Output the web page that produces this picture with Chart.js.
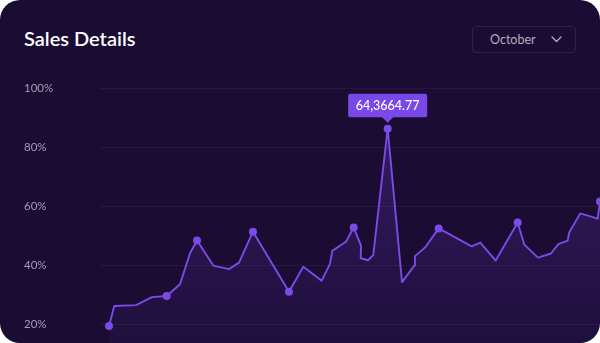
<!DOCTYPE html>
<html>
<head>
<meta charset="utf-8">
<script src="https://cdn.jsdelivr.net/npm/chart.js@4.4.1/dist/chart.umd.min.js"></script>
<style>
  html, body { margin: 0; padding: 0; background: #ffffff; }
  .card {
    position: relative;
    width: 600px;
    height: 343px;
    border-radius: 20px;
    background: #1a0c32;
    overflow: hidden;
    font-family: Lato, "Open Sans", sans-serif;
  }
  .title {
    position: absolute;
    left: 24px;
    top: 28px;
    margin: 0;
    font-size: 20px;
    line-height: 20px;
    font-weight: 600;
    color: #ffffff;
  }
  .select {
    position: absolute;
    left: 472px;
    top: 26px;
    width: 104px;
    height: 27px;
    box-sizing: border-box;
    border: 1px solid rgba(255, 255, 255, 0.09);
    border-radius: 4px;
    color: #b3acc2;
    font-size: 12.5px;
    line-height: 25px;
    padding-left: 17px;
  }
  .select svg { position: absolute; left: 78px; top: 9px; }
  canvas { position: absolute; left: 0; top: 0; }
</style>
</head>
<body>
<div class="card">
  <h1 class="title">Sales Details</h1>
  <div class="select">October
    <svg width="11" height="7" viewBox="0 0 11 7"><path d="M1 1 L5.5 5.5 L10 1" fill="none" stroke="#b3acc2" stroke-width="1.3" stroke-linecap="round" stroke-linejoin="round"/></svg>
  </div>
  <canvas id="sales" width="600" height="390"></canvas>
</div>
<script>
// Sales position along the month (thousands of units) and share reached (%)
const salesX = [1.2, 1.83, 4.43, 6.35, 8.11, 9.7, 10.9, 11.74, 13.69, 15.57, 16.77, 18.44,
  22.75, 24.47, 26.67, 27.66, 27.94, 29.58, 30.5, 31.38, 31.34, 32.21, 32.85, 34.57,
  36.29, 37.76, 37.84, 39.08, 40.68, 44.63, 45.66, 47.51, 50.14, 50.93, 52.57, 54.13,
  55.01, 56.13, 56.32, 57.64, 59.72, 60.0];
const salesPct = [19.3, 26.1, 26.4, 29.1, 29.5, 33.5, 44.0, 48.3, 39.8, 38.6, 40.8, 51.3,
  30.9, 39.4, 34.7, 40.4, 44.8, 47.9, 52.7, 46.6, 42.3, 41.6, 43.4, 86.2,
  34.2, 39.8, 43.0, 46.0, 52.4, 46.3, 47.6, 41.5, 54.4, 46.9, 42.5, 43.9,
  47.1, 48.3, 51.1, 57.5, 55.7, 61.5];
// Points that carry a visible marker
const markedIdx = [0, 4, 7, 11, 12, 18, 23, 28, 32, 41];
// Highlighted peak and its callout text
const peakIdx = 23;
const peakLabel = '64,3664.77';
// Y axis ticks (%)
const yTicks = [0, 20, 40, 60, 80, 100];

const purple = '#7c4ae6';

const points = salesX.map((x, i) => ({ x: x, y: salesPct[i] }));

const calloutPlugin = {
  id: 'peakCallout',
  afterDatasetsDraw(chart) {
    const el = chart.getDatasetMeta(0).data[peakIdx];
    if (!el) return;
    const ctx = chart.ctx;
    const cx = el.x, cy = el.y;
    const w = 79, h = 23.5, tipY = cy - 6, boxBottom = cy - 11.5;
    const left = cx - w / 2, top = boxBottom - h;
    ctx.save();
    ctx.fillStyle = '#7a48e8';
    ctx.beginPath();
    ctx.roundRect(left, top, w, h, 2);
    ctx.fill();
    ctx.beginPath();
    ctx.moveTo(cx - 6, boxBottom - 0.5);
    ctx.lineTo(cx + 6, boxBottom - 0.5);
    ctx.lineTo(cx, tipY);
    ctx.closePath();
    ctx.fill();
    ctx.fillStyle = '#ffffff';
    ctx.font = '500 12.5px Lato, sans-serif';
    ctx.textAlign = 'center';
    ctx.textBaseline = 'middle';
    ctx.fillText(peakLabel, cx, top + h / 2 + 0.5);
    ctx.restore();
  }
};

new Chart(document.getElementById('sales'), {
  type: 'line',
  data: {
    datasets: [{
      data: points,
      borderColor: purple,
      borderWidth: 1.9,
      borderJoinStyle: 'round',
      tension: 0,
      fill: 'start',
      backgroundColor(context) {
        const area = context.chart.chartArea;
        if (!area) return 'rgba(124,74,230,0.15)';
        const g = context.chart.ctx.createLinearGradient(0, area.top, 0, area.bottom);
        g.addColorStop(0, 'rgba(124,74,230,0.30)');
        g.addColorStop(0.55, 'rgba(124,74,230,0.14)');
        g.addColorStop(1, 'rgba(124,74,230,0.02)');
        return g;
      },
      pointRadius: (c) => markedIdx.includes(c.dataIndex) ? 4 : 0,
      pointHoverRadius: (c) => markedIdx.includes(c.dataIndex) ? 4 : 0,
      pointBackgroundColor: purple,
      pointBorderWidth: 0,
      clip: false
    }]
  },
  options: {
    responsive: false,
    animation: false,
    events: [],
    layout: { autoPadding: false, padding: { left: 24, right: 0, top: 88, bottom: 7 } },
    plugins: { legend: { display: false }, tooltip: { enabled: false } },
    scales: {
      x: { type: 'linear', display: false, min: 0, max: 60 },
      y: {
        min: yTicks[0],
        max: yTicks[yTicks.length - 1],
        afterBuildTicks(scale) { scale.ticks = yTicks.map(v => ({ value: v })); },
        afterFit(scale) { scale.width = 75; },
        border: { display: false },
        grid: { color: 'rgba(255,255,255,0.055)', lineWidth: 1, drawTicks: false },
        ticks: {
          crossAlign: 'far',
          padding: 0,
          color: '#a39cb3',
          font: { family: 'Lato', size: 11.5 },
          callback: (v) => v + '%'
        }
      }
    }
  },
  plugins: [calloutPlugin]
});
</script>
</body>
</html>
